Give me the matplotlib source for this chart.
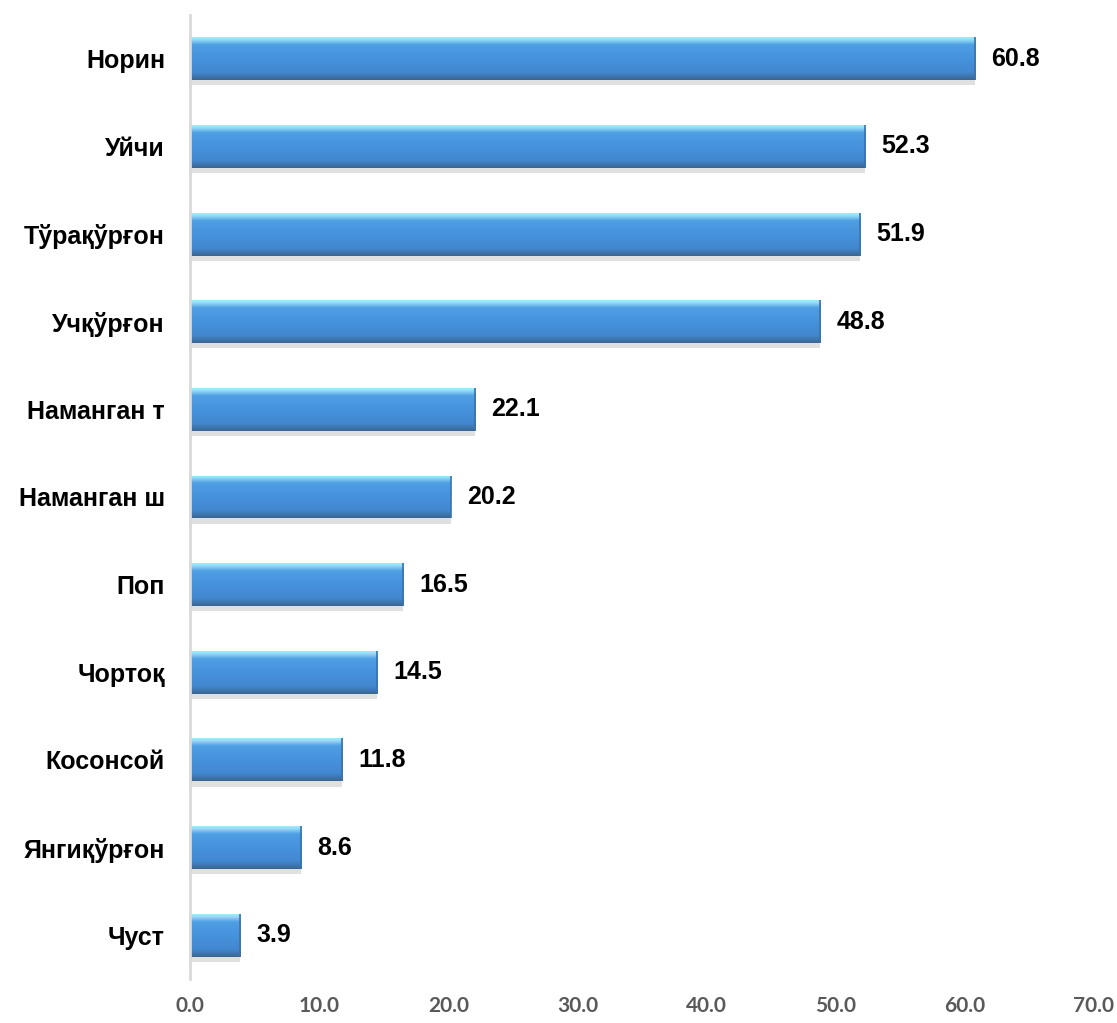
import numpy as np
import matplotlib
matplotlib.use('agg')
import matplotlib.pyplot as plt
from matplotlib.colors import LinearSegmentedColormap

# districts, top to bottom
districts = ['Норин', 'Уйчи', 'Тўрақўрғон', 'Учқўрғон', 'Наманган т',
             'Наманган ш', 'Поп', 'Чортоқ', 'Косонсой', 'Янгиқўрғон', 'Чуст']
values = [60.8, 52.3, 51.9, 48.8, 22.1, 20.2, 16.5, 14.5, 11.8, 8.6, 3.9]
xticks = [0, 10, 20, 30, 40, 50, 60, 70]

fig = plt.figure(figsize=(11.17, 10.23), dpi=100)
ax = fig.add_axes([0.1701, 0.0430, 0.9794 - 0.1701, 0.9424])

ypos = np.arange(len(districts))[::-1]
bar_h = 0.49

# soft shadow under each bar
ax.barh(ypos - 0.06, values, height=bar_h, color='#e0e0e0', zorder=1)
bars = ax.barh(ypos, values, height=bar_h, color='#4690da', zorder=2)

# vertical gradient inside the bars (glossy look)
grad = LinearSegmentedColormap.from_list('gloss', [
    (0.0, '#a4ecff'), (0.07, '#8fd8f8'), (0.18, '#4f9fe4'),
    (0.5, '#4692dc'), (0.82, '#4288d0'), (0.93, '#3d73a8'), (1.0, '#3a6590')])
g = np.linspace(0, 1, 256).reshape(-1, 1)
for b in bars:
    x0, y0 = b.get_x(), b.get_y()
    w, h = b.get_width(), b.get_height()
    im = ax.imshow(g, cmap=grad, aspect='auto', origin='upper',
                   extent=(x0, x0 + w, y0, y0 + h), zorder=3)
    im.set_clip_path(b)
    # slightly darker bevelled ends
    ax.plot([x0 + w, x0 + w], [y0, y0 + h], color='#3b73aa', lw=1.2, zorder=4,
            solid_capstyle='butt')

for y, v in zip(ypos, values):
    ax.annotate('{:.1f}'.format(v), xy=(v, y), xytext=(11.5, 0),
                textcoords='offset points', va='center', ha='left',
                fontsize=18, fontweight='bold', family='Liberation Sans',
                color='black')

ax.set_xlim(0, 70)
ax.set_ylim(-0.5, 10.5)
ax.set_yticks(ypos)
ax.set_yticklabels(districts, fontsize=18, fontweight='bold',
                   family='Liberation Sans')
ax.set_xticks(xticks)
ax.set_xticklabels(['{:.1f}'.format(t) for t in xticks], fontsize=15,
                   fontweight='bold', family='Lato', color='#595959')
ax.tick_params(axis='y', length=0, pad=18)
ax.tick_params(axis='x', length=0, pad=12)

for s in ['top', 'right', 'bottom']:
    ax.spines[s].set_visible(False)
ax.spines['left'].set_color('#d9d9d9')
ax.spines['left'].set_linewidth(2)
ax.spines['left'].set_zorder(5)

fig.savefig('out.png', dpi=100)
